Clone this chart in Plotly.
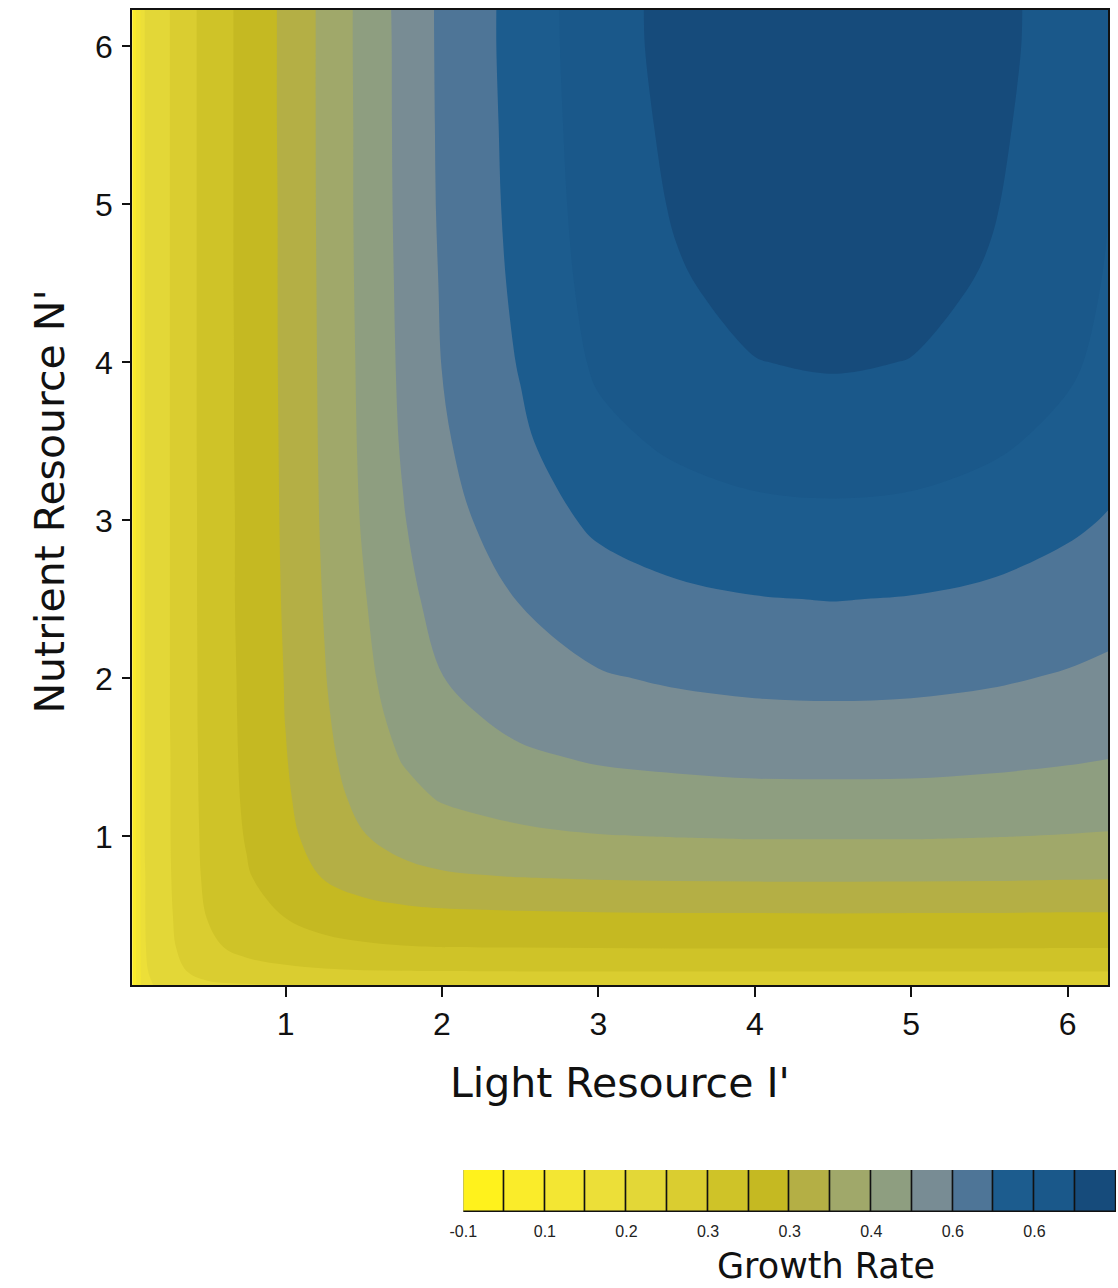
import plotly.graph_objects as go

# ---- data (growth rate surface) ----
light = [0.02, 0.1, 0.25, 0.5, 0.75, 1.0, 1.25, 1.5, 1.75, 2.0, 2.5, 3.0, 3.5, 4.0, 4.5, 5.0, 5.5, 6.0, 6.26]
nutrient = [0.06, 0.15, 0.3, 0.5, 0.75, 1.0, 1.25, 1.5, 1.75, 2.0, 2.5, 3.0, 3.5, 4.0, 4.5, 5.0, 5.5, 6.0, 6.23]

# rows follow `nutrient`, columns follow `light`
growth = [
    [-0.040, 0.090, 0.118, 0.141, 0.147, 0.151, 0.152, 0.154, 0.154, 0.154, 0.155, 0.155, 0.155, 0.155, 0.155, 0.155, 0.155, 0.155, 0.155],
    [-0.040, 0.095, 0.132, 0.171, 0.184, 0.191, 0.196, 0.199, 0.200, 0.201, 0.202, 0.202, 0.202, 0.202, 0.202, 0.202, 0.202, 0.202, 0.202],
    [-0.040, 0.098, 0.140, 0.191, 0.213, 0.227, 0.238, 0.244, 0.248, 0.250, 0.251, 0.252, 0.253, 0.253, 0.253, 0.253, 0.253, 0.252, 0.252],
    [-0.040, 0.099, 0.143, 0.202, 0.231, 0.252, 0.269, 0.280, 0.286, 0.290, 0.293, 0.295, 0.296, 0.296, 0.297, 0.296, 0.296, 0.295, 0.295],
    [-0.040, 0.099, 0.145, 0.211, 0.246, 0.276, 0.304, 0.324, 0.337, 0.345, 0.352, 0.356, 0.358, 0.359, 0.359, 0.359, 0.358, 0.356, 0.355],
    [-0.040, 0.101, 0.146, 0.214, 0.253, 0.288, 0.322, 0.348, 0.367, 0.379, 0.391, 0.398, 0.401, 0.403, 0.403, 0.403, 0.401, 0.398, 0.396],
    [-0.040, 0.101, 0.146, 0.216, 0.257, 0.294, 0.332, 0.364, 0.388, 0.404, 0.420, 0.430, 0.434, 0.437, 0.437, 0.437, 0.434, 0.430, 0.427],
    [-0.040, 0.101, 0.146, 0.217, 0.259, 0.298, 0.339, 0.375, 0.403, 0.423, 0.443, 0.455, 0.461, 0.465, 0.466, 0.465, 0.461, 0.455, 0.451],
    [-0.040, 0.101, 0.147, 0.218, 0.260, 0.301, 0.344, 0.383, 0.414, 0.437, 0.462, 0.478, 0.485, 0.489, 0.491, 0.489, 0.485, 0.478, 0.472],
    [-0.040, 0.101, 0.147, 0.218, 0.261, 0.302, 0.348, 0.389, 0.423, 0.449, 0.477, 0.496, 0.505, 0.511, 0.512, 0.511, 0.505, 0.496, 0.490],
    [-0.040, 0.101, 0.147, 0.219, 0.263, 0.305, 0.353, 0.397, 0.436, 0.467, 0.502, 0.528, 0.541, 0.548, 0.551, 0.548, 0.541, 0.528, 0.519],
    [-0.040, 0.101, 0.147, 0.219, 0.263, 0.307, 0.357, 0.405, 0.447, 0.483, 0.526, 0.559, 0.576, 0.587, 0.590, 0.587, 0.576, 0.559, 0.547],
    [-0.040, 0.101, 0.147, 0.220, 0.264, 0.308, 0.359, 0.409, 0.455, 0.494, 0.542, 0.587, 0.609, 0.622, 0.626, 0.622, 0.609, 0.587, 0.570],
    [-0.040, 0.101, 0.147, 0.220, 0.264, 0.309, 0.360, 0.411, 0.459, 0.501, 0.553, 0.608, 0.634, 0.649, 0.654, 0.649, 0.634, 0.608, 0.587],
    [-0.040, 0.101, 0.147, 0.220, 0.265, 0.309, 0.361, 0.413, 0.461, 0.504, 0.560, 0.618, 0.646, 0.663, 0.669, 0.663, 0.646, 0.618, 0.596],
    [-0.040, 0.101, 0.147, 0.220, 0.265, 0.309, 0.362, 0.414, 0.463, 0.507, 0.564, 0.624, 0.654, 0.673, 0.679, 0.673, 0.654, 0.624, 0.601],
    [-0.040, 0.101, 0.147, 0.220, 0.265, 0.310, 0.362, 0.414, 0.464, 0.508, 0.566, 0.628, 0.659, 0.678, 0.685, 0.678, 0.659, 0.628, 0.604],
    [-0.040, 0.101, 0.147, 0.220, 0.265, 0.310, 0.362, 0.415, 0.464, 0.509, 0.568, 0.631, 0.663, 0.682, 0.689, 0.682, 0.663, 0.631, 0.607],
    [-0.040, 0.101, 0.147, 0.220, 0.265, 0.310, 0.362, 0.415, 0.465, 0.509, 0.568, 0.632, 0.663, 0.683, 0.690, 0.683, 0.663, 0.632, 0.607],
]

# 16 colour bands of width 0.05 from -0.10 to 0.70
band_lower = [-0.10, -0.05, 0.00, 0.05, 0.10, 0.15, 0.20, 0.25,
              0.30, 0.35, 0.40, 0.45, 0.50, 0.55, 0.60, 0.65]
band_colors = ["#FFF21C", "#FAEC2A", "#F3E633", "#ECDF38", "#E3D737", "#DACD30",
               "#CFC328", "#C5B922", "#B4AF45", "#A0A86A", "#8E9E80", "#788C94",
               "#4E7597", "#1C5C8E", "#1A588A", "#164B7B"]

axis_ticks = [1, 2, 3, 4, 5, 6]
cbar_tick_pos = [0, 2, 4, 6, 8, 10, 12, 14]
cbar_tick_text = ["-0.1", "0.1", "0.2", "0.3", "0.3", "0.4", "0.6", "0.6"]

x_title = "Light Resource I'"
y_title = "Nutrient Resource N'"
cbar_title = "Growth Rate"

# ---- figure ----
W, H = 1118, 1288
fig = go.Figure()

n_bands = len(band_colors)
colorscale = [[i / (n_bands - 1), c] for i, c in enumerate(band_colors)]
step = band_lower[1] - band_lower[0]

fig.add_trace(go.Contour(
    x=light, y=nutrient, z=growth,
    autocontour=False,
    contours=dict(start=band_lower[1], end=band_lower[-1], size=step,
                  coloring="fill", showlines=False),
    colorscale=colorscale,
    line=dict(width=0, smoothing=1.0),
    showscale=False,
    hoverinfo="skip",
    xaxis="x", yaxis="y",
))

# discrete colour key drawn as outlined boxes
fig.add_trace(go.Bar(
    x=[i + 0.5 for i in range(n_bands)],
    y=[1] * n_bands,
    width=[1] * n_bands,
    marker=dict(color=band_colors, line=dict(color="#111111", width=1.5)),
    hoverinfo="skip",
    showlegend=False,
    xaxis="x2", yaxis="y2",
))

tick_font = dict(family="Liberation Sans, Arial, sans-serif", size=32, color="#111111")
title_font = dict(family="DejaVu Sans, sans-serif", size=41, color="#111111")

fig.update_layout(
    width=W, height=H,
    margin=dict(l=0, r=0, t=0, b=0),
    paper_bgcolor="white", plot_bgcolor="white",
    showlegend=False,
    bargap=0,
    xaxis=dict(
        domain=[119.8 / W, 1108.2 / W], range=[0.02, 6.26],
        tickvals=axis_ticks, ticks="outside", ticklen=10, tickwidth=1.5, tickcolor="#111111",
        showline=True, mirror=True, linecolor="#111111", linewidth=2,
        showgrid=False, zeroline=False, tickfont=tick_font, ticklabelstandoff=0,
        anchor="y",
    ),
    yaxis=dict(
        domain=[1 - 985 / H, 1 - 10 / H], range=[0.06, 6.23],
        tickvals=axis_ticks, ticks="outside", ticklen=8, tickwidth=1.5, tickcolor="#111111",
        showline=True, mirror=True, linecolor="#111111", linewidth=2,
        showgrid=False, zeroline=False, tickfont=tick_font, ticklabelstandoff=3,
        anchor="x",
    ),
    xaxis2=dict(
        domain=[455 / W, 1116 / W], range=[0, n_bands],
        tickvals=cbar_tick_pos, ticktext=cbar_tick_text, ticks="",
        showline=False, showgrid=False, zeroline=False,
        tickfont=dict(family="Liberation Sans, Arial, sans-serif", size=16, color="#222222"),
        ticklabelstandoff=8, anchor="y2",
    ),
    yaxis2=dict(
        domain=[1 - 1212 / H, 1 - 1170 / H], range=[0, 1],
        visible=False, anchor="x2",
    ),
    annotations=[
        dict(text=x_title, x=614 / W, y=1 - 1083 / H, xref="paper", yref="paper",
             xanchor="center", yanchor="middle", showarrow=False, font=title_font),
        dict(text=y_title, x=36 / W, y=1 - 502 / H, xref="paper", yref="paper",
             xanchor="center", yanchor="middle", showarrow=False, textangle=-90,
             font=title_font),
        dict(text=cbar_title, x=822 / W, y=1 - 1266 / H, xref="paper", yref="paper",
             xanchor="center", yanchor="middle", showarrow=False,
             font=dict(family="DejaVu Sans, sans-serif", size=35, color="#111111")),
    ],
)

fig.write_html("out.html")
